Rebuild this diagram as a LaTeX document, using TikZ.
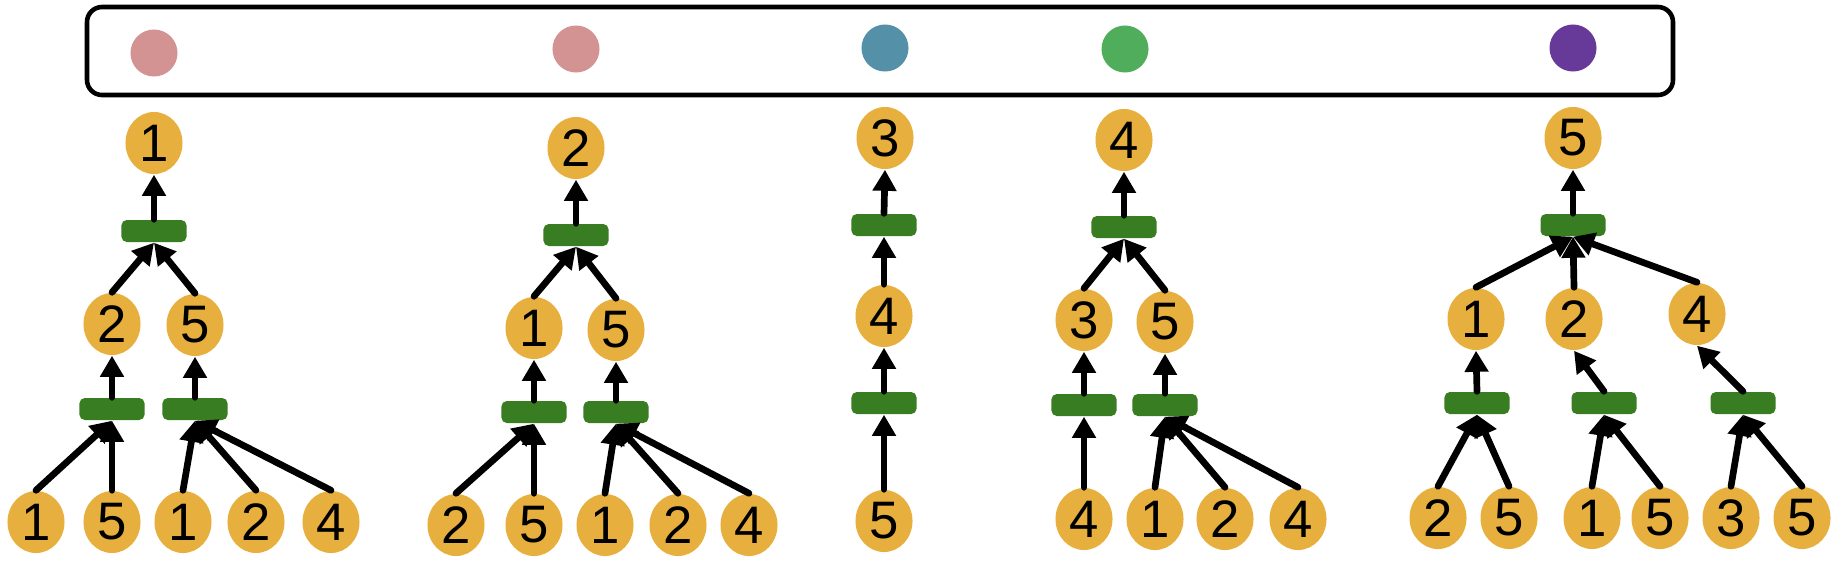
\documentclass[tikz,border=0pt]{standalone}
\usepackage{fontspec}
\setmainfont{Liberation Sans}
\usetikzlibrary{arrows.meta,shapes.geometric}
\definecolor{nodeorange}{RGB}{231,176,62}
\definecolor{bargreen}{RGB}{57,125,35}
\definecolor{dotpink}{RGB}{211,147,147}
\definecolor{dotblue}{RGB}{84,145,169}
\definecolor{dotgreen}{RGB}{80,173,92}
\definecolor{dotpurple}{RGB}{103,57,152}

\begin{document}
\begin{tikzpicture}[x=0.01cm,y=-0.01cm]
	\tikzstyle{elem} = [ellipse, fill=nodeorange, inner sep=0pt, minimum width=0.57cm, minimum height=0.62cm, font=\fontsize{15}{17}\selectfont]
	\tikzstyle{agg} = [rectangle, fill=bargreen, rounded corners=1.5pt, minimum width=0.65cm, minimum height=0.22cm, inner sep=0pt]
	\tikzstyle{colordot} = [circle, inner sep=0pt, minimum size=0.47cm]
	\tikzstyle{link} = [line width=1.9pt, line cap=round, -{Triangle[length=6pt,width=6.5pt]}]
	\useasboundingbox (0,0) rectangle (1836,560);
	
	% legend box
	\draw[line width=1.3pt, rounded corners=0.15cm] (87,7) rectangle (1673,95);
	\node[colordot, fill=dotpink](d1) at (154,53){};
	\node[colordot, fill=dotpink](d2) at (576,49){};
	\node[colordot, fill=dotblue](d3) at (885,48){};
	\node[colordot, fill=dotgreen](d4) at (1125,49){};
	\node[colordot, fill=dotpurple](d5) at (1573,48){};
	
	% tree 1
	\node[elem](r1) at (154,143){1};
	\node[agg](t1) at (154,231){};
	\node[elem](m1a) at (112,324){2};
	\node[elem](m1b) at (195,325){5};
	\node[agg](s1a) at (112,409){};
	\node[agg](s1b) at (195,409){};
	\node[elem](l1a) at (36,522){1};
	\node[elem](l1b) at (112,522){5};
	\node[elem](l1c) at (183,522){1};
	\node[elem](l1d) at (256,522){2};
	\node[elem](l1e) at (331,522){4};
	\draw[link](t1.north) -- (r1.south);
	\draw[link](m1a.north) -- (t1.south);
	\draw[link](m1b.north) -- (t1.south);
	\draw[link](s1a.north) -- (m1a.south);
	\draw[link](s1b.north) -- (m1b.south);
	\draw[link](l1a.north) -- (s1a.south);
	\draw[link](l1b.north) -- (s1a.south);
	\draw[link](l1c.north) -- (s1b.south);
	\draw[link](l1d.north) -- (s1b.south);
	\draw[link](l1e.north) -- (s1b.south);
	
	% tree 2
	\node[elem](r2) at (576,148){2};
	\node[agg](t2) at (576,235){};
	\node[elem](m2a) at (534,328){1};
	\node[elem](m2b) at (616,330){5};
	\node[agg](s2a) at (534,412){};
	\node[agg](s2b) at (616,412){};
	\node[elem](l2a) at (456,525){2};
	\node[elem](l2b) at (534,525){5};
	\node[elem](l2c) at (605,525){1};
	\node[elem](l2d) at (678,525){2};
	\node[elem](l2e) at (749,525){4};
	\draw[link](t2.north) -- (r2.south);
	\draw[link](m2a.north) -- (t2.south);
	\draw[link](m2b.north) -- (t2.south);
	\draw[link](s2a.north) -- (m2a.south);
	\draw[link](s2b.north) -- (m2b.south);
	\draw[link](l2a.north) -- (s2a.south);
	\draw[link](l2b.north) -- (s2a.south);
	\draw[link](l2c.north) -- (s2b.south);
	\draw[link](l2d.north) -- (s2b.south);
	\draw[link](l2e.north) -- (s2b.south);
	
	% tree 3
	\node[elem](r3) at (885,138){3};
	\node[agg](t3) at (884,225){};
	\node[elem](m3a) at (884,316){4};
	\node[agg](s3a) at (884,403){};
	\node[elem](l3a) at (884,521){5};
	\draw[link](t3.north) -- (r3.south);
	\draw[link](m3a.north) -- (t3.south);
	\draw[link](s3a.north) -- (m3a.south);
	\draw[link](l3a.north) -- (s3a.south);
	
	% tree 4
	\node[elem](r4) at (1124,140){4};
	\node[agg](t4) at (1124,227){};
	\node[elem](m4a) at (1084,320){3};
	\node[elem](m4b) at (1165,322){5};
	\node[agg](s4a) at (1084,405){};
	\node[agg](s4b) at (1165,405){};
	\node[elem](l4a) at (1084,519){4};
	\node[elem](l4b) at (1155,519){1};
	\node[elem](l4c) at (1225,519){2};
	\node[elem](l4d) at (1298,519){4};
	\draw[link](t4.north) -- (r4.south);
	\draw[link](m4a.north) -- (t4.south);
	\draw[link](m4b.north) -- (t4.south);
	\draw[link](s4a.north) -- (m4a.south);
	\draw[link](s4b.north) -- (m4b.south);
	\draw[link](l4a.north) -- (s4a.south);
	\draw[link](l4b.north) -- (s4b.south);
	\draw[link](l4c.north) -- (s4b.south);
	\draw[link](l4d.north) -- (s4b.south);
	
	% tree 5
	\node[elem](r5) at (1573,138){5};
	\node[agg](t5) at (1573,225){};
	\node[elem](m5a) at (1476,319){1};
	\node[elem](m5b) at (1574,319){2};
	\node[elem](m5c) at (1697,314){4};
	\node[agg](s5a) at (1477,403){};
	\node[agg](s5b) at (1604,403){};
	\node[agg](s5c) at (1743,403){};
	\node[elem](l5a) at (1438,518){2};
	\node[elem](l5b) at (1509,518){5};
	\node[elem](l5c) at (1592,518){1};
	\node[elem](l5d) at (1660,518){5};
	\node[elem](l5e) at (1731,518){3};
	\node[elem](l5f) at (1802,518){5};
	\draw[link](t5.north) -- (r5.south);
	\draw[link](m5a.north) -- (t5.south);
	\draw[link](m5b.north) -- (t5.south);
	\draw[link](m5c.north) -- (t5.south);
	\draw[link](s5a.north) -- (m5a.south);
	\draw[link](s5b.north) -- (m5b.south);
	\draw[link](s5c.north) -- (m5c.south);
	\draw[link](l5a.north) -- (s5a.south);
	\draw[link](l5b.north) -- (s5a.south);
	\draw[link](l5c.north) -- (s5b.south);
	\draw[link](l5d.north) -- (s5b.south);
	\draw[link](l5e.north) -- (s5c.south);
	\draw[link](l5f.north) -- (s5c.south);
\end{tikzpicture}
\end{document}
